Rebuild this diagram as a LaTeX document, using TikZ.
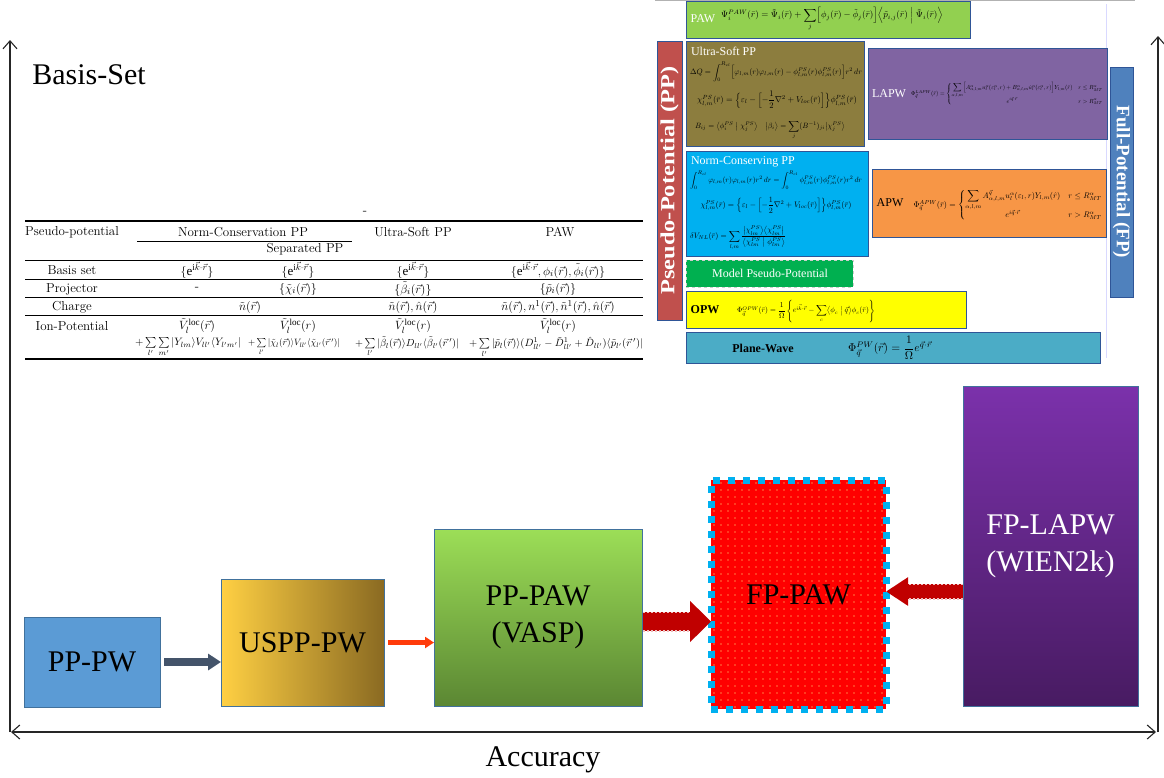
\documentclass[tikz,border=0pt]{standalone}
\usepackage{amsmath,amssymb}
\usepackage{graphicx}
\usepackage{fontspec}
\setmainfont{Liberation Serif}
\newfontfamily\lmr{Latin Modern Roman}
\usetikzlibrary{arrows.meta,patterns.meta}
\definecolor{bordc}{HTML}{41719C}
\definecolor{topbord}{HTML}{2F5597}
\definecolor{ppwblue}{HTML}{5B9BD5}
\definecolor{usl}{HTML}{FFD043}
\definecolor{usr}{HTML}{8A6A22}
\definecolor{pawtop}{HTML}{9CDE57}
\definecolor{pawbot}{HTML}{5B8733}
\definecolor{laptop}{HTML}{7B31AB}
\definecolor{lapbot}{HTML}{481B62}
\definecolor{fpcyan}{HTML}{00B0F0}
\definecolor{fpred}{HTML}{FF0000}
\definecolor{slatec}{HTML}{44546A}
\definecolor{orarr}{HTML}{FF3B0A}
\definecolor{darkredc}{HTML}{C00000}
\definecolor{pawgreen}{HTML}{92D050}
\definecolor{usolive}{HTML}{8C7D3E}
\definecolor{lapwpurple}{HTML}{8064A2}
\definecolor{ncblue}{HTML}{00B0F0}
\definecolor{apworange}{HTML}{F79646}
\definecolor{mppgreen}{HTML}{00B050}
\definecolor{opwyellow}{HTML}{FFFF00}
\definecolor{pwteal}{HTML}{4BACC6}
\definecolor{ppred}{HTML}{C0504D}
\definecolor{fpblue}{HTML}{4F81BD}
\tikzset{axtip/.tip={Straight Barb[length=8pt,width=14pt]}}
\begin{document}
\begin{tikzpicture}[x=1pt,y=-1pt,
  every node/.style={inner sep=0pt,outer sep=0pt},
  box/.style={draw=bordc,line width=1pt,anchor=north west},
  tbox/.style={draw=topbord,line width=0.8pt,anchor=north west},
  big/.style={font=\fontsize{30}{37}\selectfont,align=center},
  lab/.style={font=\fontsize{12}{14}\selectfont},
  blab/.style={font=\bfseries\fontsize{12}{14}\selectfont},
  tab/.style={font=\lmr\fontsize{13}{15}\selectfont},
  axisline/.style={line width=1.1pt,black!85},
  thickrule/.style={line width=1.2pt},
  thinrule/.style={line width=0.6pt},
  serrate/.style={white!75!darkredc,line width=1.4pt,dash pattern=on 2pt off 2pt}]
\useasboundingbox (0,0) rectangle (1164,777);
\fill[white] (0,0) rectangle (1164,777);

% ---------- axes ----------
\coordinate (lbot) at (10,732);
\coordinate (ltop) at (10,40);
\coordinate (hl) at (11,732);
\coordinate (hr) at (1156,732);
\coordinate (rbot) at (1158,732);
\coordinate (rtop) at (1158,36);
\draw[axisline,-axtip] (lbot) -- (ltop);
\draw[axisline,axtip-axtip] (hl) -- (hr);
\draw[axisline,-axtip] (rbot) -- (rtop);
\node[font=\fontsize{30}{36}\selectfont] (basis) at (89,75) {Basis-Set};
\node[font=\fontsize{30}{36}\selectfont] (acc) at (543,760) {Accuracy};

% ---------- table ----------
\node[tab] (dash) at (365,213) {-};
\draw[thickrule] (25,221) -- (643,221);
\draw[thinrule] (137,241) -- (352,241);
\foreach \yy in {260,279,297,315} \draw[thinrule] (25,\yy) -- (643,\yy);
\draw[thickrule] (25,359) -- (643,359);
\node[tab] (h1) at (72,232) {Pseudo-potential};
\node[tab] (h2) at (243,232) {Norm-Conservation PP};
\node[tab] (h4) at (413,232) {Ultra-Soft PP};
\node[tab] (h5) at (560,232) {PAW};
\node[tab] (h3) at (305,249) {Separated PP};
\node[tab] (r1) at (72,270) {Basis set};
\node[tab] (r1c2) at (197,270) {$\{\mathrm{e}^{\mathrm{i}\vec k\cdot\vec r}\}$};
\node[tab] (r1c3) at (298,270) {$\{\mathrm{e}^{\mathrm{i}\vec k\cdot\vec r}\}$};
\node[tab] (r1c4) at (413,270) {$\{\mathrm{e}^{\mathrm{i}\vec k\cdot\vec r}\}$};
\node[tab] (r1c5) at (558,270) {$\{\mathrm{e}^{\mathrm{i}\vec k\cdot\vec r},\phi_i(\vec r),\tilde\phi_i(\vec r)\}$};
\node[tab] (r2) at (72,289) {Projector};
\node[tab] (r2c2) at (197,289) {-};
\node[tab] (r2c3) at (298,289) {$\{\tilde\chi_i(\vec r)\}$};
\node[tab] (r2c4) at (413,289) {$\{\tilde\beta_i(\vec r)\}$};
\node[tab] (r2c5) at (558,289) {$\{\tilde p_i(\vec r)\}$};
\node[tab] (r3) at (72,307) {Charge};
\node[tab] (r3c2) at (250,307) {$\tilde n(\vec r)$};
\node[tab] (r3c4) at (413,307) {$\tilde n(\vec r),\hat n(\vec r)$};
\node[tab] (r3c5) at (558,307) {$\tilde n(\vec r),n^1(\vec r),\tilde n^1(\vec r),\hat n(\vec r)$};
\node[tab] (r4) at (72,326) {Ion-Potential};
\node[tab] (r4c2) at (197,326) {$\tilde V_l^{\mathrm{loc}}(\vec r)$};
\node[tab] (r4c3) at (298,326) {$\tilde V_l^{\mathrm{loc}}(r)$};
\node[tab] (r4c4) at (413,326) {$\tilde V_l^{\mathrm{loc}}(r)$};
\node[tab] (r4c5) at (558,326) {$\tilde V_l^{\mathrm{loc}}(r)$};
\node (s2) at (188,347) {\resizebox{106pt}{!}{$+\sum\limits_{l'}\sum\limits_{m'}|Y_{lm}\rangle V_{ll'}\langle Y_{l'm'}|$}};
\node (s3) at (294,347) {\resizebox{92pt}{!}{$+\sum\limits_{l'}|\tilde\chi_l(\vec r)\rangle V_{ll'}\langle\tilde\chi_{l'}(\vec r\,')|$}};
\node (s4) at (407,347) {\resizebox{104pt}{!}{$+\sum\limits_{l'}|\tilde\beta_l(\vec r)\rangle D_{ll'}\langle\tilde\beta_{l'}(\vec r\,')|$}};
\node (s5) at (556,347) {\resizebox{174pt}{!}{$+\sum\limits_{l'}|\tilde p_l(\vec r)\rangle(D^1_{ll'}-\tilde D^1_{ll'}+\hat D_{ll'})\langle\tilde p_{l'}(\vec r\,')|$}};

% ---------- top-right panel ----------
\draw[gray!60,line width=1.5pt] (655,0.7) -- (1135,0.7);
\draw[blue!15,line width=1pt] (1106,4) -- (1106,358);

\node[tbox,fill=pawgreen,minimum width=284pt,minimum height=37pt] (pawbox) at (686,1) {};
\node[lab,text=white] (pawlab) at (703,19) {PAW};
\node (pawf) at (832,19) {\resizebox{222pt}{!}{$\Psi^{PAW}_i(\bar r)=\tilde\Psi_i(\bar r)+\displaystyle\sum_j\Bigl[\phi_j(\bar r)-\tilde\phi_j(\bar r)\Bigr]\Bigl\langle\tilde p_{i,j}(\bar r)\Bigm|\tilde\Psi_i(\bar r)\Bigr\rangle$}};

\node[tbox,fill=ppred,minimum width=25pt,minimum height=279pt] (ppbar) at (657,41) {};
\node[rotate=90,text=white,font=\bfseries\fontsize{20}{24}\selectfont] (pplab) at (ppbar.center) {\scalebox{1.22}[1]{Pseudo-Potential (PP)}};

\node[tbox,fill=usolive,minimum width=178pt,minimum height=105pt] (usbox) at (686,41) {};
\node[lab,text=white,anchor=west] (uslab) at (691,51) {Ultra-Soft PP};
\node (usf1) at (776,72) {\resizebox{172pt}{!}{$\Delta Q=\displaystyle\int_0^{R_{cl}}\Bigl[\varphi_{l,m}(r)\varphi_{l,m}(r)-\phi^{PS}_{l,m}(r)\phi^{PS}_{l,m}(r)\Bigr]r^2\,dr$}};
\node (usf2) at (777,100) {\resizebox{160pt}{!}{$\chi^{PS}_{l,m}(\bar r)=\Bigl\{\varepsilon_l-\Bigl[-\dfrac{1}{2}\nabla^2+V_{loc}(\bar r)\Bigr]\Bigr\}\phi^{PS}_{l,m}(\bar r)$}};
\node (usf3) at (770,130) {\resizebox{150pt}{!}{$B_{ij}=\bigl\langle\phi^{PS}_i\bigm|\chi^{PS}_j\bigr\rangle\quad\bigl|\beta_i\bigr\rangle=\displaystyle\sum_j(B^{-1})_{ji}\bigl|\chi^{PS}_j\bigr\rangle$}};

\node[tbox,fill=lapwpurple,minimum width=239pt,minimum height=91pt] (lapwbox) at (868,48) {};
\node[lab,text=white] (lapwlab) at (889,94) {LAPW};
\node (lapwf) at (1007,94) {\resizebox{192pt}{!}{$\Phi^{LAPW}_{\vec q}(\bar r)=\left\{\begin{array}{@{}c@{\quad}l@{}}\displaystyle\sum_{\alpha,l,m}\Bigl[A^{\alpha}_{\alpha,l,m}u^{\alpha}_l(\varepsilon^{\alpha}_l,r)+B^{\alpha}_{\alpha,l,m}\dot u^{\alpha}_l(\varepsilon^{\alpha}_l,r)\Bigr]Y_{l,m}(\hat r) & r\le R^{\alpha}_{MT}\\ e^{i\vec q\cdot\vec r} & r>R^{\alpha}_{MT}\end{array}\right.$}};

\node[tbox,fill=ncblue,minimum width=182pt,minimum height=105pt] (ncbox) at (686,151) {};
\node[lab,text=white,anchor=west] (nclab) at (691,162) {Norm-Conserving PP};
\node (ncf1) at (776,180) {\resizebox{172pt}{!}{$\displaystyle\int_0^{R_{cl}}\varphi_{l,m}(r)\varphi_{l,m}(r)r^2\,dr=\int_0^{R_{cl}}\phi^{PS}_{l,m}(r)\phi^{PS}_{l,m}(r)r^2\,dr$}};
\node (ncf2) at (776,205) {\resizebox{151pt}{!}{$\chi^{PS}_{l,m}(\bar r)=\Bigl\{\varepsilon_l-\Bigl[-\dfrac{1}{2}\nabla^2+V_{loc}(\bar r)\Bigr]\Bigr\}\phi^{PS}_{l,m}(\bar r)$}};
\node (ncf3) at (738,238) {\resizebox{96pt}{!}{$\delta V_{NL}(\bar r)=\displaystyle\sum_{l,m}\frac{\bigl|\chi^{PS}_{lm}\bigr\rangle\bigl\langle\chi^{PS}_{lm}\bigr|}{\bigl\langle\chi^{PS}_{lm}\bigm|\phi^{PS}_{lm}\bigr\rangle}$}};

\node[tbox,fill=apworange,minimum width=234pt,minimum height=68pt] (apwbox) at (872,169) {};
\node[lab] (apwlab) at (890,203) {APW};
\node (apwf) at (1008,205) {\resizebox{189pt}{!}{$\Phi^{APW}_{\vec q}(\bar r)=\left\{\begin{array}{@{}c@{\quad}l@{}}\displaystyle\sum_{\alpha,l,m}A^{\vec q}_{\alpha,l,m}u^{\alpha}_l(\varepsilon_l,r)Y_{l,m}(\hat r) & r\le R^{\alpha}_{MT}\\[4pt] e^{i\vec q\cdot\vec r} & r>R^{\alpha}_{MT}\end{array}\right.$}};

\node[anchor=north west,fill=mppgreen,draw=gray!40,dashed,line width=0.8pt,minimum width=167pt,minimum height=27pt] (mppbox) at (686,260) {};
\node[lab,text=white] (mpplab) at (770,273) {Model Pseudo-Potential};

\node[tbox,fill=opwyellow,minimum width=280pt,minimum height=37pt] (opwbox) at (686,291) {};
\node[blab] (opwlab) at (705,310) {OPW};
\node (opwf) at (806,311) {\resizebox{138pt}{!}{$\Phi^{OPW}_{\vec q}(\bar r)=\dfrac{1}{\Omega}\left\{e^{i\vec k\cdot\vec r}-\displaystyle\sum_c\bigl\langle\phi_c\bigm|\vec q\bigr\rangle\phi_c(\bar r)\right\}$}};

\node[tbox,fill=pwteal,minimum width=414pt,minimum height=31pt] (pwbox) at (686,332) {};
\node[blab] (pwlab) at (763,348) {Plane-Wave};
\node (pwf) at (890,348) {\resizebox{84pt}{!}{$\Phi^{PW}_{\vec q}(\vec r)=\dfrac{1}{\Omega}e^{\vec q\cdot\vec r}$}};

\node[tbox,fill=fpblue,minimum width=23pt,minimum height=230pt] (fpbar) at (1110,67) {};
\node[rotate=-90,text=white,font=\bfseries\fontsize{19}{22}\selectfont] (fplab) at (fpbar.center) {Full-Potential (FP)};

% ---------- bottom boxes ----------
\node[box,fill=ppwblue,minimum width=136pt,minimum height=90pt] (ppw) at (24,617) {};
\node[big] (ppwt) at (ppw.center) {PP-PW};
\node[box,left color=usl,right color=usr,minimum width=163pt,minimum height=127pt] (uspp) at (221,579) {};
\node[big] (usppt) at (uspp.center) {USPP-PW};
\node[box,top color=pawtop,bottom color=pawbot,minimum width=208pt,minimum height=177pt] (pppaw) at (434,529) {};
\node[big] (pppawt) at (pppaw.center) {PP-PAW\\(VASP)};
\node[anchor=north west,preaction={fill=fpred},pattern={Dots[distance=7pt,radius=0.6pt]},pattern color=yellow!45!white,draw=fpcyan,line width=7pt,dash pattern=on 7pt off 8pt,minimum width=175pt,minimum height=229pt] (fppaw) at (711,480) {};
\node[big] (fppawt) at (fppaw.center) {FP-PAW};
\node[box,top color=laptop,bottom color=lapbot,minimum width=175pt,minimum height=320pt] (fplapw) at (963,386) {};
\node[big,text=white] (fplapwt) at (fplapw.center) {FP-LAPW\\(WIEN2k)};

% ---------- arrows ----------
\draw[slatec,line width=8pt,-{Triangle[length=13pt,width=16pt]},shorten <=4pt] (ppw.east) -- (uspp.west |- ppw.east);
\draw[orarr,line width=5pt,-{Triangle[length=9pt,width=11pt]},shorten <=4pt] (uspp.east) -- (pppaw.west |- uspp.east);
\coordinate (a1s) at ([yshift=-4pt]pppaw.east);
\coordinate (a1e) at (a1s -| fppaw.west);
\draw[darkredc,line width=19pt,-{Triangle[length=21pt,width=40pt]},shorten <=1pt] (a1s) -- (a1e);
\draw[serrate] ([yshift=9.3pt,xshift=1pt]a1s) -- ([yshift=9.3pt,xshift=-21pt]a1e);
\draw[serrate] ([yshift=-9.3pt,xshift=1pt]a1s) -- ([yshift=-9.3pt,xshift=-21pt]a1e);
\coordinate (a2s) at ([yshift=3pt]fplapw.west |- fppaw.east);
\coordinate (a2e) at ([yshift=3pt]fppaw.east);
\draw[darkredc,line width=15pt,-{Triangle[length=22pt,width=27pt]}] (a2s) -- (a2e);
\draw[serrate] ([yshift=7.3pt]a2s) -- ([yshift=7.3pt,xshift=22pt]a2e);
\draw[serrate] ([yshift=-7.3pt]a2s) -- ([yshift=-7.3pt,xshift=22pt]a2e);
\end{tikzpicture}
\end{document}
